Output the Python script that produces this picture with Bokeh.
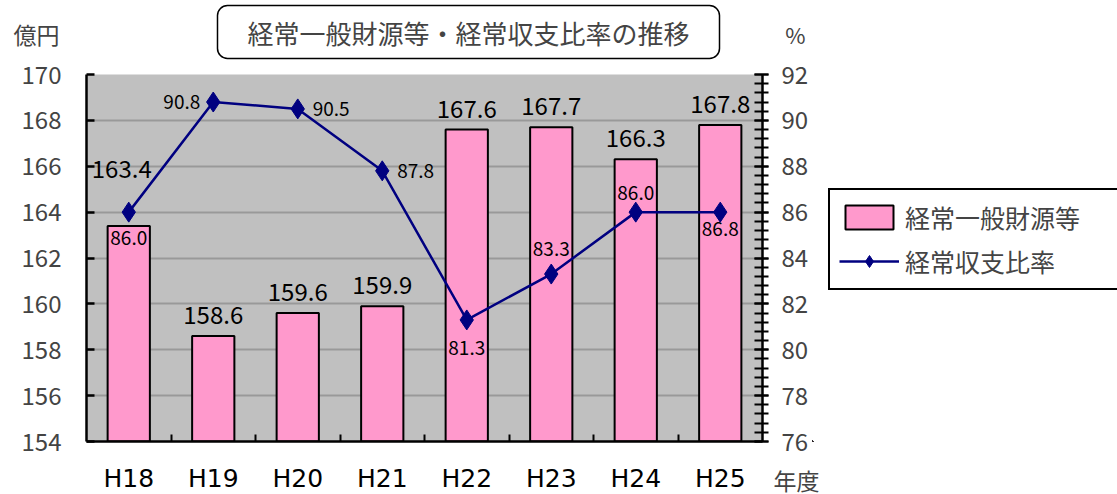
from bokeh.plotting import figure
from bokeh.layouts import column, row
from bokeh.models import Range1d, LinearAxis, FixedTicker, Legend, LegendItem, Label, ColumnDataSource
from bokeh.core.properties import value
from bokeh.embed import file_html
from bokeh.resources import INLINE

# ---- data ----
years = ["H18", "H19", "H20", "H21", "H22", "H23", "H24", "H25"]
revenue = [163.4, 158.6, 159.6, 159.9, 167.6, 167.7, 166.3, 167.8]      # 億円
ratio = [86.0, 90.8, 90.5, 87.8, 81.3, 83.3, 86.0, 86.0]                # % (plotted position)
ratio_labels = ["86.0", "90.8", "90.5", "87.8", "81.3", "83.3", "86.0", "86.8"]
left_ticks = [154, 156, 158, 160, 162, 164, 166, 168, 170]
right_ticks = [76, 78, 80, 82, 84, 86, 88, 90, 92]
title_text = "経常一般財源等・経常収支比率の推移"
legend_labels = ["経常一般財源等", "経常収支比率"]

# ---- label styling (positions of data labels, in pixels) ----
bar_lbl_dx = [-7, 0, 0, 0, 0, 0, 0, 0]
bar_lbl_dy = [-48, -12, -12, -12, -12, -12, -12, -12]
rat_lbl_dx = [0, -13, 15, 15, 0, 0, 0, 0]
rat_lbl_dy = [19, 0, 0, 0, 21, -18, -12, 10]
rat_lbl_align = ["center", "right", "left", "left", "center", "center", "center", "center"]
rat_lbl_base = ["top", "middle", "middle", "middle", "top", "bottom", "bottom", "top"]

FONT = "Noto Sans CJK JP"
LATIN = "DejaVu Sans"
PINK, NAVY = "#ff99cc", "#000080"

# ---- layout geometry (pixels) ----
W, H = 1117, 494
TOP_H, BOT_H = 60, 40
MAIN_W = 812
MAIN_H = H - TOP_H - BOT_H
FRAME_L, FRAME_R = 86, 762
xs = list(range(1, len(years) + 1))
unit = (FRAME_R - FRAME_L) / len(years)


def blank(width, height, xr=None, yr=None):
    f = figure(width=width, height=height, output_backend="svg", toolbar_location=None,
               x_range=xr if xr is not None else Range1d(0, width),
               y_range=yr if yr is not None else Range1d(height, 0),
               x_axis_location=None, y_axis_location=None, min_border=0,
               outline_line_color=None, background_fill_color="white",
               border_fill_color="white")
    f.grid.visible = False
    return f


# ---- top strip: title and units ----
top = blank(W, TOP_H)
top.add_layout(Label(x=468, y=31.5, text=title_text, text_align="center",
                     text_baseline="middle", text_font=FONT, text_font_size="26px",
                     border_line_color="black", border_line_width=1.5, border_radius=10,
                     background_fill_color="white",
                     padding=dict(left=30, right=30, top=8, bottom=8)))
top.add_layout(Label(x=36, y=33, text="億円", text_align="center", text_baseline="middle",
                     text_font=FONT, text_font_size="23px"))
top.add_layout(Label(x=795, y=33, text="%", text_align="center", text_baseline="middle",
                     text_font=FONT, text_font_size="22px"))

# ---- main chart ----
p = figure(width=MAIN_W, height=MAIN_H, output_backend="svg", toolbar_location=None,
           x_range=Range1d(0.5, len(years) + 0.5), y_range=Range1d(left_ticks[0], left_ticks[-1]),
           min_border_left=FRAME_L, min_border_right=MAIN_W - FRAME_R,
           min_border_top=74 - TOP_H, min_border_bottom=MAIN_H - (441 - TOP_H),
           background_fill_color="#c0c0c0", border_fill_color="white", outline_line_color=None)
p.extra_y_ranges = {"pct": Range1d(right_ticks[0], right_ticks[-1])}

p.xgrid.visible = False
p.ygrid.ticker = FixedTicker(ticks=left_ticks)
p.ygrid.grid_line_color = "#999999"
p.ygrid.grid_line_width = 2

bsrc = ColumnDataSource(dict(x=xs, top=revenue, txt=[f"{v:.1f}" for v in revenue],
                             dx=bar_lbl_dx, dy=bar_lbl_dy))
bar_style = dict(fill_color=PINK, line_color="black", line_width=2)
p.vbar(x="x", top="top", bottom=left_ticks[0], width=0.5, source=bsrc, **bar_style)
p.text(x="x", y="top", text="txt", x_offset="dx", y_offset="dy", source=bsrc,
       text_align="center", text_baseline="bottom", text_font=value(FONT),
       text_font_size="24px", text_color="black")

lsrc = ColumnDataSource(dict(x=xs, y=ratio, txt=ratio_labels, dx=rat_lbl_dx, dy=rat_lbl_dy,
                             al=rat_lbl_align, bl=rat_lbl_base))
line_style = dict(line_color=NAVY, line_width=2.5)
mark_style = dict(marker="diamond", size=20, fill_color=NAVY, line_color=NAVY)
p.line(x="x", y="y", source=lsrc, y_range_name="pct", **line_style)
p.scatter(x="x", y="y", source=lsrc, y_range_name="pct", **mark_style)
p.text(x="x", y="y", text="txt", x_offset="dx", y_offset="dy", text_align="al",
       text_baseline="bl", source=lsrc, y_range_name="pct", text_font=value(FONT),
       text_font_size="19px", text_color="black")

xa = p.xaxis[0]
xa.ticker = FixedTicker(ticks=xs, minor_ticks=[x + 0.5 for x in xs[:-1]])
xa.major_label_overrides = {x: "" for x in xs}   # category names are drawn in the strip below
xa.major_tick_in = 0
xa.major_tick_out = 0
xa.minor_tick_in = 7
xa.minor_tick_out = 0
xa.minor_tick_line_width = 2
xa.axis_line_width = 2.5
xa.major_label_standoff = 0

ya = p.yaxis[0]
ya.ticker = FixedTicker(ticks=left_ticks)
ya.major_tick_in = 8
ya.major_tick_out = 0
ya.major_tick_line_width = 2.5
ya.minor_tick_in = 0
ya.minor_tick_out = 0
ya.axis_line_width = 2.5
ya.major_label_standoff = 25
ya.major_label_text_font = FONT
ya.major_label_text_font_size = "24px"

ra = LinearAxis(y_range_name="pct",
                ticker=FixedTicker(ticks=right_ticks,
                                   minor_ticks=[round(right_ticks[0] + 0.4 * i, 1) for i in range(41)]),
                major_tick_in=8, major_tick_out=6, minor_tick_in=8, minor_tick_out=6,
                major_tick_line_width=2, minor_tick_line_width=2, axis_line_width=2.5,
                major_label_standoff=13, major_label_text_font=FONT,
                major_label_text_font_size="24px")
p.add_layout(ra, "right")

# ---- side panel: legend (its renderers reuse the data, kept out of view) ----
side = blank(W - MAIN_W, MAIN_H, xr=Range1d(1000, 1100), yr=Range1d(1000, 1100))
lb = side.vbar(x="x", top="top", bottom=left_ticks[0], width=0.5, source=bsrc, **bar_style)
ll = side.line(x="x", y="y", source=lsrc, **line_style)
ls = side.scatter(x="x", y="y", source=lsrc, **mark_style)
legend = Legend(items=[LegendItem(label=legend_labels[0], renderers=[lb]),
                       LegendItem(label=legend_labels[1], renderers=[ll, ls])],
                location=(828 - MAIN_W, (TOP_H + MAIN_H) - 303),
                border_line_color="black", border_line_width=2, border_line_alpha=1,
                background_fill_color="white", background_fill_alpha=1,
                label_text_font=FONT, label_text_font_size="25px",
                glyph_width=60, glyph_height=30, label_height=30, label_width=235,
                spacing=8, padding=9, margin=0, label_standoff=6)
side.add_layout(legend)

# ---- bottom strip: category labels on the same x scale, and unit ----
bot = blank(W, BOT_H, xr=Range1d(0.5 - FRAME_L / unit, 0.5 + (W - FRAME_L) / unit))
bot.text(x=xs, y=24, text=years, text_align="center", text_baseline="middle",
         text_font=value(LATIN), text_font_size="25px", text_color="black")
bot.add_layout(Label(x=796, y=BOT_H - 25, x_units="screen", y_units="screen", text="年度",
                     text_align="center", text_baseline="middle",
                     text_font=FONT, text_font_size="23px"))

layout = column(top, row(p, side), bot)
open("out.html", "w").write(file_html(layout, INLINE))
